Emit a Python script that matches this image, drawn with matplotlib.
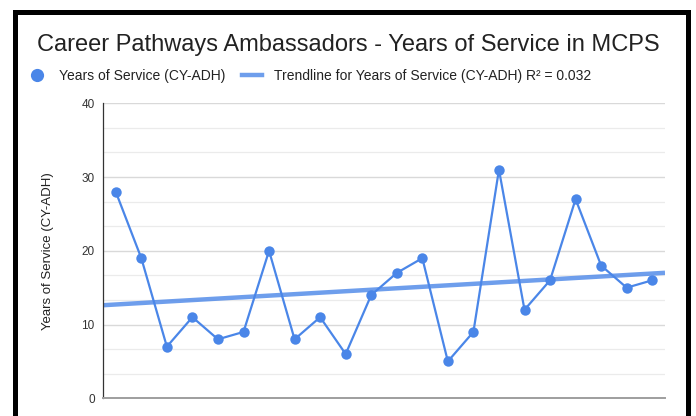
import numpy as np
import matplotlib
matplotlib.use("Agg")
import matplotlib.pyplot as plt
from matplotlib.patches import Rectangle
from matplotlib.lines import Line2D

plt.rcParams['font.family'] = ['Liberation Sans', 'DejaVu Sans']

# Years of service for each ambassador, in listed order
years = [28, 19, 7, 11, 8, 9, 20, 8, 11, 6, 14, 17, 19, 5, 9, 31, 12, 16, 27, 18, 15, 16]
y_ticks = [0, 10, 20, 30, 40]
series_name = "Years of Service (CY-ADH)"
title = "Career Pathways Ambassadors - Years of Service in MCPS"

BLUE = "#4a86e8"
TEXT = "#222222"

W, H = 696, 416
fig = plt.figure(figsize=(W / 100, H / 100), dpi=100)
fig.patch.set_facecolor("white")

ax = fig.add_axes([103 / W, 1 - 398.3 / H, (665 - 103) / W, (398.3 - 103.3) / H])

x = np.arange(len(years))
y = np.array(years, dtype=float)

# Linear trendline and its R²
slope, intercept = np.polyfit(x, y, 1)
fit = slope * x + intercept
r2 = 1 - np.sum((y - fit) ** 2) / np.sum((y - y.mean()) ** 2)
xt = np.array([-0.5, len(years) - 0.5])
ax.plot(xt, slope * xt + intercept, color=BLUE, lw=3.2, alpha=0.8,
        solid_capstyle="butt", zorder=2)

ax.plot(x, y, color=BLUE, lw=1.6, marker="o", markersize=7.5,
        markeredgewidth=0, zorder=3)

ax.set_xlim(-0.5, len(years) - 0.5)
ax.set_ylim(0, 40)
ax.set_yticks(y_ticks)
ax.set_yticks([v for v in np.linspace(0, 40, 13) if v not in y_ticks], minor=True)
ax.set_xticks([])
ax.tick_params(axis="y", which="both", length=0, pad=6, labelsize=8.5, labelcolor="#333333")
ax.grid(axis="y", which="major", color="#d9d9d9", lw=1.0)
ax.grid(axis="y", which="minor", color="#ebebeb", lw=0.9)
ax.set_axisbelow(True)

for side in ("top", "right"):
    ax.spines[side].set_visible(False)
ax.spines["left"].set_color("#333333")
ax.spines["left"].set_linewidth(0.9)
ax.spines["bottom"].set_color("#9e9e9e")
ax.spines["bottom"].set_linewidth(1.4)

ax.set_ylabel(series_name, fontsize=9.5, color=TEXT, labelpad=20)

fig.text(348 / W, 1 - 45 / H, title, ha="center", va="center",
         fontsize=17, color=TEXT)

# Legend row
handles = [
    Line2D([], [], color=BLUE, marker="o", linestyle="none", markersize=9.5,
           markeredgewidth=0),
    Line2D([], [], color=BLUE, lw=3.2, alpha=0.8),
]
labels = [series_name, f"Trendline for {series_name} R\u00b2 = {r2:.3f}"]
fig.legend(handles, labels, loc="center left", bbox_to_anchor=(27 / W, 1 - 76 / H),
           ncol=2, frameon=False, fontsize=10, labelcolor=TEXT,
           handlelength=1.4, handletextpad=0.9, columnspacing=1.23,
           borderaxespad=0, borderpad=0)

# Frame around the whole chart
fig.patches.append(Rectangle((15.3 / W, -0.05), (687.5 - 15.3) / W,
                             1 - 11.5 / H + 0.05, transform=fig.transFigure,
                             fill=False, edgecolor="black", lw=3.6, zorder=10))

fig.savefig("out.png", dpi=100)
